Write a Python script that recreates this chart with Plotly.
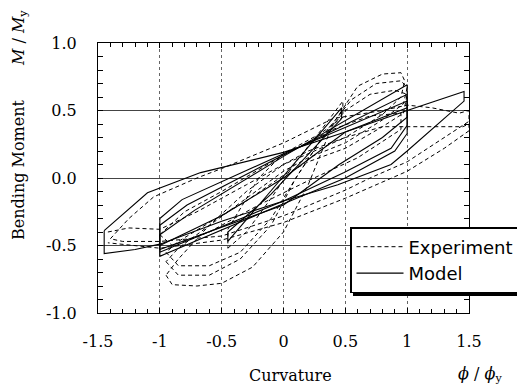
import plotly.graph_objects as go

# ---------------- data ----------------
x_tick_vals = [-1.5, -1, -0.5, 0, 0.5, 1, 1.5]
x_tick_text = ["-1.5", "-1", "-0.5", "0", "0.5", "1", "1.5"]
y_tick_vals = [1.0, 0.5, 0.0, -0.5, -1.0]
y_tick_text = ["1.0", "0.5", "0.0", "-0.5", "-1.0"]

# Experiment loops (dashed)
exp_loop1_x = [-1.40, -1.25, -1.05, -0.70, -0.50, 0.00, 0.40, 0.80, 1.00, 1.20, 1.42, 1.50,
               1.50, 1.35, 1.00, 0.70, 0.50, 0.00, -0.50, -1.00, -1.30, -1.40]
exp_loop1_y = [-0.45, -0.30, -0.14, 0.00, 0.07, 0.26, 0.44, 0.50, 0.54, 0.52, 0.48, 0.50,
               0.42, 0.33, 0.12, 0.00, -0.09, -0.28, -0.43, -0.47, -0.47, -0.45]
exp_loop2_x = [-1.42, -1.25, -1.00, -0.70, -0.30, 0.00, 0.50, 0.80, 1.00, 1.30, 1.45, 1.50,
               1.50, 1.30, 1.00, 0.50, 0.00, -0.50, -1.00, -1.42]
exp_loop2_y = [-0.40, -0.37, -0.38, -0.25, -0.05, 0.10, 0.30, 0.38, 0.38, 0.38, 0.38, 0.40,
               0.35, 0.22, 0.05, -0.15, -0.33, -0.46, -0.52, -0.48]
exp_loop3_x = [-0.95, -0.90, -0.70, -0.50, -0.25, 0.00, 0.20, 0.40, 0.60, 0.80, 0.95, 0.98,
               0.95, 0.80, 0.50, 0.20, 0.00, -0.30, -0.60, -0.85, -0.95]
exp_loop3_y = [-0.72, -0.79, -0.80, -0.78, -0.66, -0.40, -0.05, 0.40, 0.68, 0.77, 0.78, 0.72,
               0.60, 0.47, 0.30, 0.20, 0.10, -0.10, -0.35, -0.60, -0.72]
exp_loop4_x = [-0.95, -0.85, -0.60, -0.35, -0.10, 0.10, 0.35, 0.55, 0.75, 0.95, 1.00,
               0.97, 0.80, 0.50, 0.20, 0.00, -0.30, -0.60, -0.85, -0.95]
exp_loop4_y = [-0.62, -0.72, -0.72, -0.60, -0.35, 0.00, 0.35, 0.58, 0.70, 0.72, 0.67,
               0.55, 0.43, 0.26, 0.15, 0.05, -0.15, -0.35, -0.52, -0.62]
exp_loop5_x = [-0.95, -0.85, -0.60, -0.35, -0.10, 0.10, 0.30, 0.50, 0.70, 0.90, 1.00,
               0.97, 0.80, 0.50, 0.20, 0.00, -0.30, -0.60, -0.85, -0.95]
exp_loop5_y = [-0.55, -0.65, -0.65, -0.55, -0.30, 0.00, 0.28, 0.50, 0.62, 0.65, 0.62,
               0.48, 0.38, 0.22, 0.12, 0.02, -0.17, -0.33, -0.47, -0.55]
exp_loop6_x = [-0.45, -0.30, -0.10, 0.10, 0.30, 0.48, 0.48, 0.30, 0.00, -0.20, -0.45, -0.45]
exp_loop6_y = [-0.52, -0.40, -0.15, 0.12, 0.35, 0.57, 0.45, 0.33, 0.18, 0.00, -0.38, -0.52]
exp_loop7_x = [-1.00, -0.80, -0.50, 0.00, 0.40, 0.70, 0.95, 0.95, 0.60, 0.20, -0.20, -0.60, -0.90, -1.00]
exp_loop7_y = [-0.42, -0.25, -0.10, 0.17, 0.36, 0.46, 0.48, 0.36, 0.15, -0.02, -0.20, -0.40, -0.50, -0.42]

# Model loops (solid)
mod_loop1_x = [-1.45, -1.10, -0.67, 0.00, 0.50, 1.00, 1.46, 1.46, 1.00, 0.87, 0.44, 0.00, -0.50, -1.00, -1.20, -1.45, -1.45]
mod_loop1_y = [-0.39, -0.11, 0.04, 0.19, 0.34, 0.50, 0.64, 0.57, 0.20, 0.10, -0.05, -0.17, -0.32, -0.49, -0.53, -0.56, -0.39]
mod_loop2_x = [-1.00, -0.82, 0.00, 1.00, 1.00, 0.87, 0.49, 0.00, -1.00, -1.00]
mod_loop2_y = [-0.30, -0.16, 0.18, 0.57, 0.39, 0.22, 0.04, -0.17, -0.55, -0.30]
mod_loop3_x = [-1.00, -0.78, 0.00, 1.00, 1.00, 0.90, 0.50, 0.00, -1.00, -1.00]
mod_loop3_y = [-0.35, -0.20, 0.17, 0.62, 0.33, 0.20, 0.00, -0.19, -0.58, -0.35]
mod_loop4_x = [-1.00, -0.72, 0.00, 1.00, 1.00, 0.80, 0.45, 0.00, -1.00, -1.00]
mod_loop4_y = [-0.42, -0.24, 0.16, 0.69, 0.45, 0.30, 0.10, -0.20, -0.53, -0.42]
mod_loop5_x = [-0.45, 0.47, 0.47, -0.10, -0.45, -0.45]
mod_loop5_y = [-0.47, 0.52, 0.44, -0.12, -0.40, -0.47]
mod_loop6_x = [-1.00, -0.50, 0.00, 0.50, 1.00]
mod_loop6_y = [-0.50, -0.28, 0.00, 0.34, 0.52]

exp_loops = [(exp_loop1_x, exp_loop1_y), (exp_loop2_x, exp_loop2_y), (exp_loop3_x, exp_loop3_y),
             (exp_loop4_x, exp_loop4_y), (exp_loop5_x, exp_loop5_y), (exp_loop6_x, exp_loop6_y),
             (exp_loop7_x, exp_loop7_y)]
mod_loops = [(mod_loop1_x, mod_loop1_y), (mod_loop2_x, mod_loop2_y), (mod_loop3_x, mod_loop3_y),
             (mod_loop4_x, mod_loop4_y), (mod_loop5_x, mod_loop5_y), (mod_loop6_x, mod_loop6_y)]


def join(loops):
    xs, ys = [], []
    for lx, ly in loops:
        xs += list(lx) + [None]
        ys += list(ly) + [None]
    return xs, ys


ex, ey = join(exp_loops)
mx, my = join(mod_loops)

serif = "DejaVu Serif, serif"
sans = "DejaVu Sans, sans-serif"

fig = go.Figure()
fig.add_trace(go.Scatter(x=ex, y=ey, mode="lines", name="Experiment", legendgroup="e",
                         line=dict(color="black", width=1, dash="4px,3px")))
fig.add_trace(go.Scatter(x=mx, y=my, mode="lines", name="Model", legendgroup="m",
                         line=dict(color="black", width=1.1)))
# invisible trace to activate the mirrored (top/right) tick axes
fig.add_trace(go.Scatter(x=[None], y=[None], xaxis="x2", yaxis="y2", showlegend=False,
                         hoverinfo="skip"))

minor_x = dict(dtick=0.1, ticks="inside", ticklen=4, tickcolor="black", showgrid=False)
minor_y = dict(dtick=0.1, ticks="inside", ticklen=5, tickcolor="black", showgrid=False)

fig.update_layout(
    xaxis=dict(range=[-1.5, 1.5], tickvals=x_tick_vals, ticktext=x_tick_text,
               showgrid=True, gridcolor="#666", griddash="dot", gridwidth=1,
               zeroline=False, showline=True, linecolor="black", linewidth=1, mirror=True,
               ticks="inside", ticklen=5, tickcolor="black", ticklabelstandoff=14,
               minor=minor_x, tickfont=dict(family=serif, size=16, color="black")),
    yaxis=dict(range=[-1, 1], tickvals=y_tick_vals, ticktext=y_tick_text,
               showgrid=True, gridcolor="#444", gridwidth=1,
               zeroline=False, showline=True, linecolor="black", linewidth=1, mirror=True,
               ticks="inside", ticklen=5, tickcolor="black", ticklabelstandoff=17,
               minor=minor_y, tickfont=dict(family=serif, size=16, color="black")),
    xaxis2=dict(range=[-1.5, 1.5], overlaying="x", side="top", anchor="y2",
                showgrid=False, zeroline=False, showticklabels=False,
                tickvals=x_tick_vals, ticks="inside", ticklen=5, tickcolor="black", minor=minor_x),
    yaxis2=dict(range=[-1, 1], overlaying="y", side="right", anchor="x2",
                showgrid=False, zeroline=False, showticklabels=False,
                tickvals=y_tick_vals, ticks="inside", ticklen=5, tickcolor="black", minor=minor_y),
)

# shadow behind the legend box
fig.add_shape(type="rect", xref="paper", yref="paper",
              x0=(353 - 98) / 371, x1=(523 - 98) / 371,
              y0=(313 - 296) / 270, y1=(313 - 232) / 270,
              fillcolor="black", line=dict(width=0), layer="above")

fig.update_layout(
    width=517, height=378,
    margin=dict(l=90, r=56, t=35, b=73, autoexpand=False),
    paper_bgcolor="white", plot_bgcolor="white",
    showlegend=True,
    legend=dict(x=(350 - 98) / 371, y=(313 - 227) / 270, xanchor="left", yanchor="top",
                bgcolor="white", bordercolor="black", borderwidth=1.5,
                font=dict(family=sans, size=18, color="black"),
                itemwidth=47, tracegroupgap=0),
    annotations=[
        dict(text="Curvature", xref="paper", yref="paper", x=(290 - 98) / 371, y=(313 - 375) / 270,
             showarrow=False, font=dict(family=serif, size=16, color="black"),
             xanchor="center", yanchor="middle"),
        dict(text="<i>ϕ</i> / <i>ϕ</i><sub>y</sub>", xref="paper", yref="paper",
             x=(480 - 98) / 371, y=(313 - 374) / 270, showarrow=False,
             font=dict(family=serif, size=16, color="black"), xanchor="center", yanchor="middle"),
        dict(text="Bending Moment", xref="paper", yref="paper", x=(18 - 98) / 371, y=(313 - 170) / 270,
             textangle=-90, showarrow=False, font=dict(family=serif, size=16, color="black"),
             xanchor="center", yanchor="middle"),
        dict(text="<i>M</i> / <i>M</i><sub>y</sub>", xref="paper", yref="paper",
             x=(20 - 98) / 371, y=(313 - 38) / 270, textangle=-90, showarrow=False,
             font=dict(family=serif, size=16, color="black"), xanchor="center", yanchor="middle"),
    ],
)

fig.write_html("out.html")
